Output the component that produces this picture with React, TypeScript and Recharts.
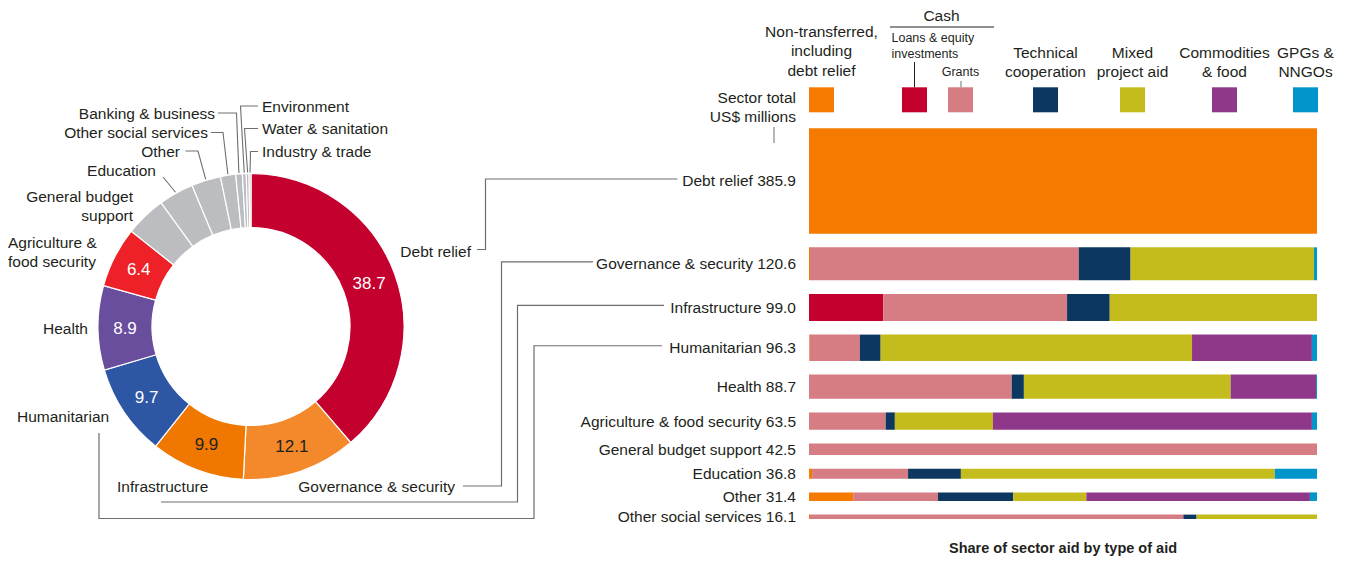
import React from 'react';
import { ComposedChart, XAxis, YAxis, ReferenceArea, PieChart, Pie, Cell } from 'recharts';

// ---- data ----
const sectors = [
  'Debt relief',
  'Governance & security',
  'Infrastructure',
  'Humanitarian',
  'Health',
  'Agriculture & food security',
  'General budget support',
  'Education',
  'Other',
  'Other social services',
];
const sectorTotals = [385.9, 120.6, 99.0, 96.3, 88.7, 63.5, 42.5, 36.8, 31.4, 16.1];

const aidTypes = [
  'Non-transferred, including debt relief',
  'Loans & equity investments',
  'Grants',
  'Technical cooperation',
  'Mixed project aid',
  'Commodities & food',
  'GPGs & NNGOs',
];
// share of each sector's aid (%), one array per aid type, in sector order
const nonTransferred = [100, 0.2, 0, 0.1, 0, 0, 0, 0.6, 8.7, 0.2];
const loansEquity = [0, 0, 14.6, 0, 0, 0, 0, 0, 0, 0];
const grants = [0, 52.9, 36.2, 9.9, 39.9, 15.1, 100, 18.9, 16.7, 73.5];
const technicalCoop = [0, 10.2, 8.4, 4.1, 2.4, 1.8, 0, 10.4, 14.8, 2.6];
const mixedProject = [0, 36.1, 40.8, 61.3, 40.7, 19.3, 0, 61.8, 14.4, 23.7];
const commodities = [0, 0, 0, 23.6, 16.8, 62.8, 0, 0, 44.0, 0];
const gpgs = [0, 0.6, 0, 1.0, 0.2, 1.0, 0, 8.3, 1.4, 0];

const donutSectors = [
  'Debt relief',
  'Governance & security',
  'Infrastructure',
  'Humanitarian',
  'Health',
  'Agriculture & food security',
  'General budget support',
  'Education',
  'Other',
  'Other social services',
  'Banking & business',
  'Environment',
  'Water & sanitation',
  'Industry & trade',
];
const donutShares = [38.7, 12.1, 9.9, 9.7, 8.9, 6.4, 4.3, 3.7, 3.1, 1.6, 0.7, 0.4, 0.3, 0.2];
const donutValueLabels = ['38.7', '12.1', '9.9', '9.7', '8.9', '6.4'];

// ---- styling / layout ----
const W = 1349;
const H = 562;
const FONT = '"Liberation Sans", Arial, sans-serif';
const TEXT = '#231F20';
const LINE = '#6d6e70';

const typeColors = ['#F47B00', '#C4002F', '#D57D82', '#0B3760', '#C3BC1C', '#8F3889', '#0096CB'];
const donutColors = [
  '#C4002F', '#F3892B', '#F07800', '#2D56A5', '#6A4E9E', '#EE2128',
  '#BCBDC0', '#BCBDC0', '#BCBDC0', '#BCBDC0', '#BCBDC0', '#BCBDC0', '#BCBDC0', '#BCBDC0',
];
const donutValueColors = ['#fff', TEXT, TEXT, '#fff', '#fff', '#fff'];

const PLOT_TOP = 128.3;
const PLOT_BOTTOM = 519;
const PLOT_LEFT = 809;
const PLOT_RIGHT = 1317;
const GAP = 50; // gap between bars, in US$ millions of bar thickness

const typeShares = [nonTransferred, loansEquity, grants, technicalCoop, mixedProject, commodities, gpgs];

let acc = 0;
const rows = sectors.map((name, i) => {
  const top = acc;
  acc += sectorTotals[i] + GAP;
  return { name, total: sectorTotals[i], top, bottom: top + sectorTotals[i], center: top + sectorTotals[i] / 2 };
});
const span = acc - GAP;
const yPx = (v: number) => PLOT_TOP + (v / span) * (PLOT_BOTTOM - PLOT_TOP);

const segments: { key: string; x1: number; x2: number; y1: number; y2: number; fill: string }[] = [];
rows.forEach((r, i) => {
  let cum = 0;
  typeShares.forEach((arr, t) => {
    const v = arr[i];
    if (v > 0) {
      segments.push({ key: `${i}-${t}`, x1: cum, x2: cum + v, y1: r.top, y2: r.bottom, fill: typeColors[t] });
      cum += v;
    }
  });
});

const rowLabel = (v: number) => {
  const r = rows.find((row) => Math.abs(row.center - v) < 1e-6);
  return r ? `${r.name} ${r.total.toFixed(1)}` : '';
};

const donutData = donutSectors.map((name, i) => ({ name, share: donutShares[i] }));

const CX = 251;
const CY = 326.5;
const R_IN = 99;
const R_OUT = 153;
const RAD = Math.PI / 180;

// outside label placement for the donut
const donutLabelLayout: Record<string, { x: number; y: number; anchor: string; lines: string[]; leader?: number[][] }> = {
  'Debt relief': { x: 471, y: 251, anchor: 'end', lines: ['Debt relief'] },
  'Governance & security': { x: 455, y: 486, anchor: 'end', lines: ['Governance & security'] },
  Infrastructure: { x: 117, y: 486, anchor: 'start', lines: ['Infrastructure'] },
  Humanitarian: { x: 17, y: 416, anchor: 'start', lines: ['Humanitarian'] },
  Health: { x: 43, y: 328, anchor: 'start', lines: ['Health'] },
  'Agriculture & food security': { x: 8, y: 242, anchor: 'start', lines: ['Agriculture &', 'food security'] },
  'General budget support': { x: 133, y: 196, anchor: 'end', lines: ['General budget', 'support'] },
  Education: { x: 156, y: 170, anchor: 'end', lines: ['Education'], leader: [[163, 177]] },
  Other: { x: 180, y: 151, anchor: 'end', lines: ['Other'], leader: [[185.5, 151], [198, 151]] },
  'Other social services': { x: 208, y: 132.5, anchor: 'end', lines: ['Other social services'], leader: [[211, 132.5], [223, 132.5]] },
  'Banking & business': { x: 215, y: 113, anchor: 'end', lines: ['Banking & business'], leader: [[218, 113], [236.5, 113]] },
  Environment: { x: 262, y: 106, anchor: 'start', lines: ['Environment'], leader: [[258, 106], [240.5, 106]] },
  'Water & sanitation': { x: 262, y: 128.5, anchor: 'start', lines: ['Water & sanitation'], leader: [[258, 128.5], [244.5, 128.5]] },
  'Industry & trade': { x: 262, y: 151.5, anchor: 'start', lines: ['Industry & trade'], leader: [[258, 151.5], [250.5, 151.5]] },
};

const renderDonutLabel = (props: any) => {
  const { cx, cy, midAngle, innerRadius, outerRadius, index } = props;
  const name = donutSectors[index];
  const layout = donutLabelLayout[name];
  const rMid = (innerRadius + outerRadius) / 2;
  const vx = cx + rMid * Math.cos(-midAngle * RAD);
  const vy = cy + rMid * Math.sin(-midAngle * RAD);
  const ex = cx + (outerRadius + 1) * Math.cos(-midAngle * RAD);
  const ey = cy + (outerRadius + 1) * Math.sin(-midAngle * RAD);
  return (
    <g key={`lbl-${index}`}>
      {index < donutValueLabels.length && (
        <text x={vx} y={vy} dy="0.36em" textAnchor="middle" fontSize={17} fill={donutValueColors[index]}>
          {donutValueLabels[index]}
        </text>
      )}
      {layout && (
        <text x={layout.x} y={layout.y} dy="0.36em" textAnchor={layout.anchor} fontSize={15.5} fill={TEXT}>
          {layout.lines.map((l, k) => (
            <tspan key={k} x={layout.x} dy={k === 0 ? '0.36em' : 19}>
              {l}
            </tspan>
          ))}
        </text>
      )}
      {layout && layout.leader && (
        <polyline
          points={[...layout.leader, [ex, ey]].map((p) => p.join(',')).join(' ')}
          fill="none"
          stroke={LINE}
          strokeWidth={1.1}
        />
      )}
    </g>
  );
};

// connectors between donut labels and bar rows
const rowY = (i: number) => yPx(rows[i].center) - 2;
const connectors = [
  [[477, 249.5], [485.5, 249.5], [485.5, rowY(0)], [677.5, rowY(0)]],
  [[463, 486], [501.5, 486], [501.5, rowY(1)], [593, rowY(1)]],
  [[161, 502], [517.5, 502], [517.5, rowY(2)], [664, rowY(2)]],
  [[99, 433], [99, 518.5], [534, 518.5], [534, rowY(3)], [662, rowY(3)]],
];

const legendSquareX = [809, 902, 948, 1033, 1120, 1212, 1293];
const SQ = 25;
const SQ_TOP = 87.3;
const headerLines: (string[] | null)[] = [
  ['Non-transferred,', 'including', 'debt relief'],
  null,
  null,
  ['Technical', 'cooperation'],
  ['Mixed', 'project aid'],
  ['Commodities', '& food'],
  ['GPGs &', 'NNGOs'],
];

export default function App() {
  return (
    <div
      style={{
        position: 'absolute',
        left: 0,
        top: 0,
        width: W,
        height: H,
        background: '#fff',
        fontFamily: FONT,
      }}
    >
      <div style={{ position: 'absolute', left: 0, top: 0 }}>
        <ComposedChart
          width={W}
          height={H}
          data={rows}
          margin={{ top: PLOT_TOP, right: W - PLOT_RIGHT, bottom: H - PLOT_BOTTOM, left: 0 }}
        >
          <XAxis type="number" dataKey="total" domain={[0, 100]} hide allowDataOverflow />
          <YAxis
            type="number"
            dataKey="center"
            domain={[0, span]}
            reversed
            allowDataOverflow
            width={PLOT_LEFT}
            ticks={rows.map((r) => r.center)}
            interval={0}
            tickFormatter={rowLabel}
            axisLine={false}
            tickLine={false}
            tickSize={6}
            tickMargin={7}
            tick={{ fill: TEXT, fontSize: 15.5 }}
          />
          {segments.map((s) => (
            <ReferenceArea
              key={s.key}
              x1={s.x1}
              x2={s.x2}
              y1={s.y1}
              y2={s.y2}
              fill={s.fill}
              fillOpacity={1}
              stroke="none"
              ifOverflow="visible"
            />
          ))}
        </ComposedChart>
      </div>

      <div style={{ position: 'absolute', left: 0, top: 0 }}>
        <PieChart width={560} height={H} margin={{ top: 0, right: 0, bottom: 0, left: 0 }}>
          <Pie
            data={donutData}
            dataKey="share"
            nameKey="name"
            cx={CX}
            cy={CY}
            innerRadius={R_IN}
            outerRadius={R_OUT}
            startAngle={90}
            endAngle={-270}
            stroke="#fff"
            strokeWidth={1.2}
            label={renderDonutLabel}
            labelLine={false}
            isAnimationActive={false}
          >
            {donutData.map((d, i) => (
              <Cell key={d.name} fill={donutColors[i]} />
            ))}
          </Pie>
        </PieChart>
      </div>

      <svg
        width={W}
        height={H}
        style={{ position: 'absolute', left: 0, top: 0, pointerEvents: 'none', fontFamily: FONT }}
      >
        {connectors.map((pts, i) => (
          <polyline key={i} points={pts.map((p) => p.join(',')).join(' ')} fill="none" stroke={LINE} strokeWidth={1.2} />
        ))}

        {/* legend header */}
        {aidTypes.map((t, i) => (
          <rect key={t} x={legendSquareX[i]} y={SQ_TOP} width={SQ} height={SQ} fill={typeColors[i]} />
        ))}
        {headerLines.map((lines, i) =>
          lines
            ? lines.map((l, k) => {
                const n = lines.length;
                const baseY = n === 3 ? 31.7 : 52;
                return (
                  <text
                    key={`${i}-${k}`}
                    x={legendSquareX[i] + SQ / 2}
                    y={baseY + k * 19.2}
                    dy="0.36em"
                    textAnchor="middle"
                    fontSize={15.5}
                    fill={TEXT}
                  >
                    {l}
                  </text>
                );
              })
            : null
        )}
        <text x={941.5} y={15} dy="0.36em" textAnchor="middle" fontSize={15.5} fill={TEXT}>
          Cash
        </text>
        <line x1={890} y1={27} x2={994} y2={27} stroke={TEXT} strokeWidth={1} />
        <text x={891.5} y={37} dy="0.36em" fontSize={12.5} fill={TEXT}>
          Loans &amp; equity
        </text>
        <text x={891.5} y={53} dy="0.36em" fontSize={12.5} fill={TEXT}>
          investments
        </text>
        <text x={960.5} y={71.5} dy="0.36em" textAnchor="middle" fontSize={12.5} fill={TEXT}>
          Grants
        </text>
        <line x1={914.5} y1={62} x2={914.5} y2={SQ_TOP} stroke={TEXT} strokeWidth={1} />
        <line x1={961} y1={81} x2={961} y2={SQ_TOP} stroke={LINE} strokeWidth={1} />

        <text x={796} y={97} dy="0.36em" textAnchor="end" fontSize={15.5} fill={TEXT}>
          Sector total
        </text>
        <text x={796} y={116.5} dy="0.36em" textAnchor="end" fontSize={15.5} fill={TEXT}>
          US$ millions
        </text>
        <line x1={774} y1={127} x2={774} y2={143} stroke={LINE} strokeWidth={1} />

        <text
          x={(PLOT_LEFT + PLOT_RIGHT) / 2}
          y={548}
          dy="0.36em"
          textAnchor="middle"
          fontSize={14.5}
          fontWeight="bold"
          fill={TEXT}
        >
          Share of sector aid by type of aid
        </text>
      </svg>
    </div>
  );
}
